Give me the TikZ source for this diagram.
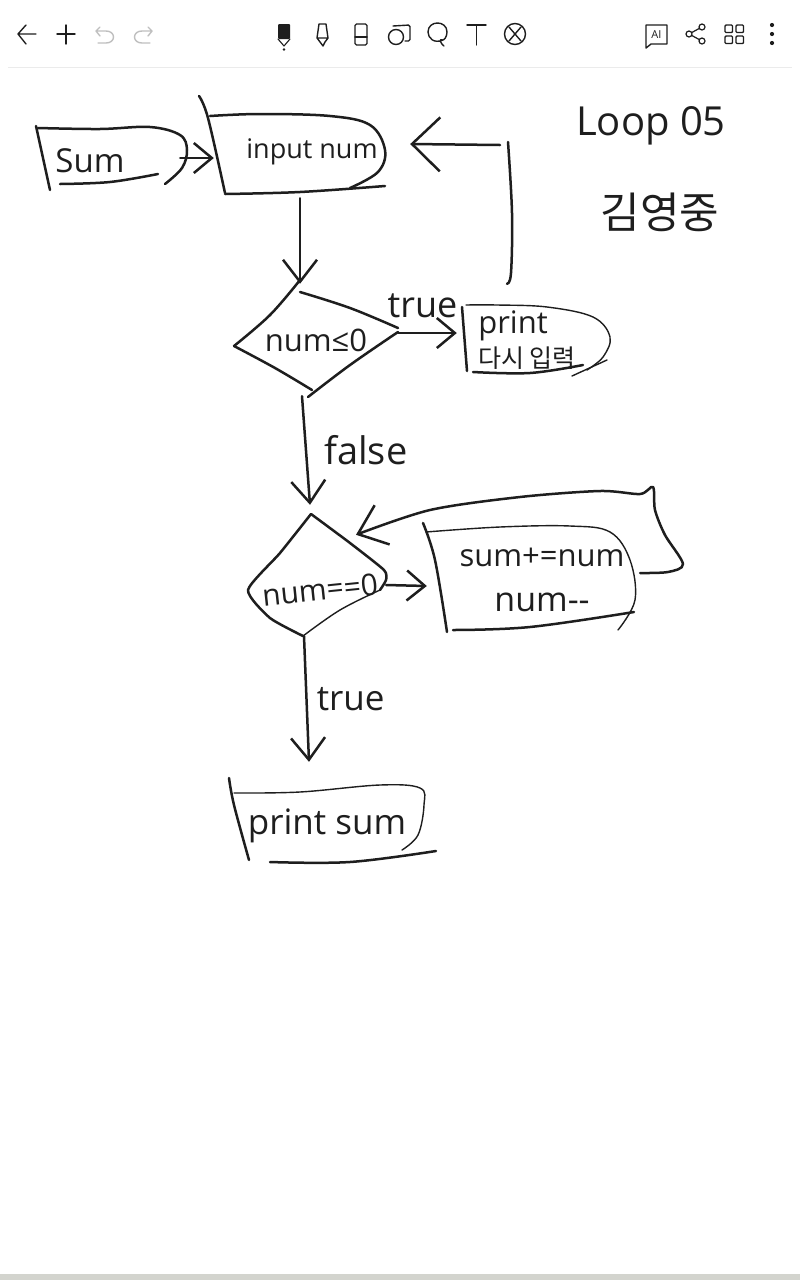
\documentclass[tikz,border=0pt]{standalone}
\usepackage{fontspec}
\setmainfont{Open Sans}
\newfontfamily\cjk{Noto Sans CJK KR}
\usetikzlibrary{arrows.meta}
\definecolor{ink}{HTML}{1E1E1E}
\definecolor{barcol}{HTML}{D3D4CE}
\newcommand{\hw}[1]{\fontsize{#1}{#1}\selectfont}
\tikzset{
  pen/.style={draw=ink,line width=2.5pt,line cap=round,line join=round},
  thinpen/.style={draw=ink,line width=1.4pt,line cap=round,line join=round},
  icon/.style={draw=ink,line width=1.4pt,line cap=round,line join=round},
  iconoff/.style={draw=black!25,line width=1.4pt,line cap=round,line join=round},
  txt/.style={inner sep=0pt,text=ink},
  smallhead/.style={-{Straight Barb[length=18pt,width=30pt]}},
  bighead/.style={-{Straight Barb[length=28pt,width=54pt]}}
}
\begin{document}
\begin{tikzpicture}[x=1pt,y=-1pt,>={Straight Barb[length=22pt,width=34pt]}]
  \useasboundingbox (0,0) rectangle (800,1280);
  \fill[white] (0,0) rectangle (800,1280);
  \fill[barcol] (0,1274) rectangle (800,1280);
  \draw[black!8,line width=1pt] (8,67) -- (792,67);

  % toolbar
  \draw[icon] (36,34) -- (18,34) (26,25) -- (18,34) -- (26,44);
  \draw[icon] (57,34) -- (75,34) (66,25) -- (66,44);
  \draw[iconoff] (100,27) -- (96,31) -- (100,36) (96,31) -- (106,31) .. controls (116,31) and (116,43) .. (106,43) -- (98,43);
  \draw[iconoff] (148,27) -- (152,31) -- (148,36) (152,31) -- (142,31) .. controls (132,31) and (132,43) .. (142,43) -- (150,43);
  \fill[ink,rounded corners=1pt] (278,24) rectangle (290,39);
  \draw[icon,line width=1.1pt] (278,39) -- (284,46) -- (290,39);
  \fill[ink] (284,49.5) circle[radius=1.3pt];
  \draw[icon] (319,24) -- (326,24) -- (328,38) -- (325,42) -- (323,46) -- (320,42) -- (317,38) -- cycle (317,38) -- (328,38);
  \draw[icon,rounded corners=1.5pt] (355,24) rectangle (367,45);
  \draw[icon] (355,37) -- (367,37);
  \draw[icon] (396,37) circle[radius=7.5pt];
  \draw[icon,rounded corners=1.5pt] (393,26) -- (410,25) -- (410,41) -- (405,41);
  \draw[icon] (443,40) .. controls (434,44) and (428,38) .. (428,32) .. controls (428,20) and (447,20) .. (447,32) .. controls (447,37) and (444,40) .. (443,40) .. controls (438,38) and (441,44) .. (444,46);
  \draw[icon] (467,25) -- (486,25) (476.5,25) -- (476.5,45);
  \draw[icon] (515,34) circle[radius=10.5pt];
  \draw[icon] (509,27) -- (521,41) (521,27) -- (509,41);
  \draw[icon] (646,25) -- (667,25) -- (667,44) -- (651,44) -- (646,48) -- cycle;
  \node[txt,font=\hw{11}] (aitxt) at (656.5,34.5) {AI};
  \draw[icon,line width=1.2pt] (702,27) -- (689,34) -- (702,41);
  \draw[icon,fill=white,line width=1.2pt] (702,27) circle[radius=3pt] (702,41) circle[radius=3pt] (689,34) circle[radius=3pt];
  \foreach \gx in {725,736}
    \foreach \gy in {25,36}
      \draw[icon,rounded corners=1pt] (\gx,\gy) rectangle ++(7.5,7.5);
  \foreach \gy in {25,34,43}
    \fill[ink] (772,\gy) circle[radius=2.1pt];

  % texts and boxes
  \node[txt,font=\hw{33},minimum width=180pt] (sum) at (90,161) {Sum};
  \node[txt,font=\hw{27},minimum width=196pt,minimum height=96pt] (input) at (312,152) {input num};
  \node[txt,font=\hw{31},minimum width=164pt,minimum height=112pt] (d1) at (316,340) {num≤0};
  \node[txt,font=\hw{25},minimum width=140pt,minimum height=112pt,align=center] (prt) at (527,340)
    {\hspace*{-28pt}{\hw{31}print}\\[5pt]{\cjk 다시 입력}};
  \node[txt,font=\hw{30},minimum width=132pt,minimum height=92pt] (d2) at (320,590) {\rotatebox{6}{num==0}};
  \node[txt,font=\hw{31},minimum width=230pt,minimum height=100pt,align=center] (acc) at (542,580)
    {sum+=num\\[14pt]{\hw{34}num-{}-}};
  \node[txt,font=\hw{35},minimum height=128pt] (out) at (327,826) {print sum};
  \node[txt,font=\hw{40}] (title) at (651,126) {Loop 05};
  \node[txt,font=\hw{43}\cjk] (name) at (660,212) {김영중};
  \coordinate (corner) at (508,142);

  % hand drawn outlines
  \draw[pen] (36,126) -- (50,190);
  \draw[pen] plot[smooth,tension=.6] coordinates {(38,128) (100,129) (150,127) (180,135) (187,150) (182,168) (165,184)};
  \draw[pen] plot[smooth,tension=.6] coordinates {(60,184) (110,182) (158,174)};
  \draw[pen] plot[smooth,tension=.6] coordinates {(199,96) (208,118) (225,193)};
  \draw[pen] plot[smooth,tension=.6] coordinates {(210,116) (260,114) (330,116) (370,125) (385,150) (378,172) (350,188)};
  \draw[pen] plot[smooth,tension=.6] coordinates {(225,194) (300,192) (385,186)};
  \draw[pen] plot[smooth,tension=.6] coordinates {(300,280) (270,315) (234,346)};
  \draw[pen] plot[smooth,tension=.6] coordinates {(234,346) (275,368) (312,390)};
  \draw[pen] plot[smooth,tension=.6] coordinates {(300,292) (350,308) (398,328)};
  \draw[pen] plot[smooth,tension=.6] coordinates {(398,332) (350,365) (308,397)};
  \draw[pen] (462,307) -- (467,371);
  \draw[thinpen] plot[smooth,tension=.6] coordinates {(466,305) (497,305) (547,307) (593,317) (610,337) (603,357) (587,370)};
  \draw[pen] plot[smooth,tension=.6] coordinates {(473,372) (530,373) (583,365)};
  \draw[thinpen] (572,376) -- (607,360);
  \draw[pen] plot[smooth,tension=.35] coordinates {(311,514) (280,553) (248,590) (270,618) (303,636)};
  \draw[pen] plot[smooth,tension=.35] coordinates {(311,514) (350,543) (384,570) (386,580) (380,590)};
  \draw[thinpen] plot[smooth,tension=.6] coordinates {(380,590) (340,610) (303,636)};
  \draw[pen] plot[smooth,tension=.6] coordinates {(423,523) (435,560) (447,632)};
  \draw[thinpen] plot[smooth,tension=.6] coordinates {(426,532) (500,527) (570,526) (610,532) (630,560) (635,600) (618,630)};
  \draw[pen] plot[smooth,tension=.6] coordinates {(453,630) (530,627) (634,612)};
  \draw[pen] plot[smooth,tension=.6] coordinates {(229,778) (234,805) (249,860)};
  \draw[thinpen] plot[smooth,tension=.6] coordinates {(234,793) (300,792) (380,785) (420,788) (424,805) (418,835) (402,850)};
  \draw[pen] plot[smooth,tension=.6] coordinates {(270,862) (350,862) (436,851)};

  % connectors
  \path ([yshift=3pt]sum.east) edge[pen,smallhead] ([yshift=-6pt]input.west);
  \path ([xshift=-12pt,yshift=2pt]input.south) edge[pen,->] ([xshift=-16pt]d1.north);
  \path ([yshift=7pt]d1.east) edge[pen,smallhead] node[txt,above=14pt,xshift=-5pt,font=\hw{36}] (t1) {true} ([yshift=7pt]prt.west);
  \path ([xshift=-14pt]d1.south) edge[pen,->] node[txt,right=17pt,font=\hw{38}] (f1) {false} ([xshift=-10pt,yshift=39pt]d2.north);
  \path ([yshift=5pt]d2.east) edge[pen,smallhead] ([yshift=-6pt]acc.west);
  \path ([xshift=-16pt]d2.south) edge[pen,->] node[txt,right=9pt,font=\hw{35}] (t2) {true} ([xshift=-18pt]out.north);
  \draw[pen] plot[smooth,tension=.6] coordinates {([xshift=-20pt]prt.north) (511,273) (512,213) (corner)};
  \path ([xshift=-8pt,yshift=-3pt]corner) edge[pen,bighead] ([yshift=8pt]input.east);
  \draw[pen,-{Straight Barb[length=26pt,width=42pt]}] plot[smooth,tension=.5] coordinates {([xshift=-17pt,yshift=7pt]acc.east) (668,572) (683,564) (665,535) (655,510) (653,487) (640,494) (600,491) (520,497) (430,510) ([xshift=36pt,yshift=9pt]d2.north)};
\end{tikzpicture}
\end{document}
